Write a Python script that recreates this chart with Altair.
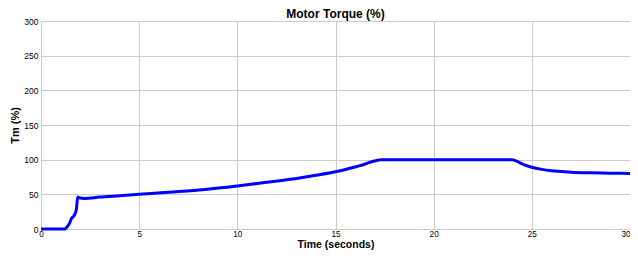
import altair as alt
import pandas as pd

time_s = [0, 1.2, 1.3, 1.45, 1.55, 1.7, 1.8, 1.87, 1.95, 2.2, 3, 4, 5, 6.3, 7.6, 8.8, 10, 11.1, 12.8,
          14, 15, 16.2, 17.35, 18, 20, 22, 24, 24.5, 25, 25.5, 26, 26.5, 27, 28, 29, 30]
torque = [0, 0, 2, 8, 15, 20, 28, 46, 45, 44, 46, 48, 50, 52.5, 55, 58.3, 62, 66, 72,
          77.5, 82.5, 91, 100, 100, 100, 100, 100, 94, 89, 86, 84, 83, 82, 81, 80.5, 80]
x_ticks = [0, 5, 10, 15, 20, 25, 30]
y_ticks = [0, 50, 100, 150, 200, 250, 300]

df = pd.DataFrame({"t": time_s, "v": torque})

FONT = "Liberation Sans"

chart = alt.Chart(df).mark_line(color="#0000FF", strokeWidth=3, interpolate="monotone").encode(
    x=alt.X("t:Q", scale=alt.Scale(domain=[0, 30], nice=False),
            axis=alt.Axis(values=x_ticks, title="Time (seconds)", format="d",
                          labelAlign={"condition": {"test": "datum.value >= 30", "value": "right"},
                                      "value": "center"})),
    y=alt.Y("v:Q", scale=alt.Scale(domain=[0, 300], nice=False),
            axis=alt.Axis(values=y_ticks, title="Tm (%)", format="d")),
).properties(
    width=589, height=208,
    title=alt.TitleParams("Motor Torque (%)", fontSize=12, font=FONT, fontWeight="bold",
                          color="black", offset=3, frame="group", dy=7),
    autosize=alt.AutoSizeParams(type="none"),
    padding={"left": 33, "top": 13, "right": 0, "bottom": 21},
).configure_view(
    stroke="#808080", strokeWidth=1
).configure_axis(
    grid=True, gridColor="#cccccc", gridWidth=1,
    domain=False, ticks=False,
    labelFont=FONT, labelColor="black",
    titleFont=FONT, titleFontWeight="bold", titleColor="black",
).configure_axisX(
    labelPadding=1, labelFontSize=8.2, titleFontSize=10.5, labelFlush=False,
    titleY=18.6, titleBaseline="alphabetic",
).configure_axisY(
    labelPadding=3, labelFontSize=8.5, titleFontSize=11, titlePadding=3,
)

chart.save("out.html", embed_options={"renderer": "svg", "actions": False})
